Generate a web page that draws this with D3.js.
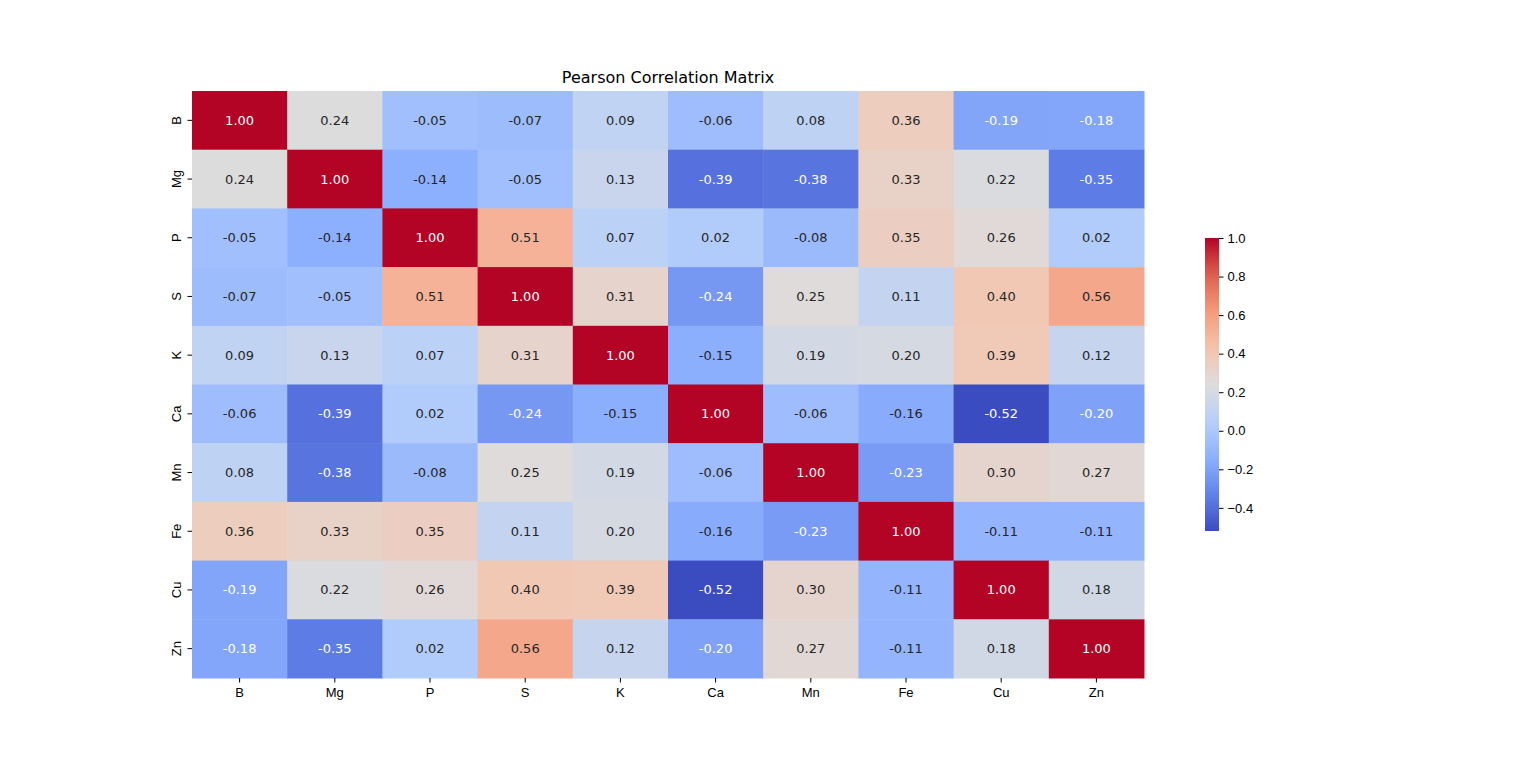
<!DOCTYPE html>
<html><head><meta charset="utf-8">
<script src="https://cdn.jsdelivr.net/npm/d3@7"></script>
<style>body{margin:0;background:#fff;font-family:"DejaVu Sans",sans-serif;}</style>
</head><body><svg id="chart" width="1536" height="762"></svg>
<script>
const labels = ["B","Mg","P","S","K","Ca","Mn","Fe","Cu","Zn"];
const matrix = [
  [1.00,0.24,-0.05,-0.07,0.09,-0.06,0.08,0.36,-0.19,-0.18],
  [0.24,1.00,-0.14,-0.05,0.13,-0.39,-0.38,0.33,0.22,-0.35],
  [-0.05,-0.14,1.00,0.51,0.07,0.02,-0.08,0.35,0.26,0.02],
  [-0.07,-0.05,0.51,1.00,0.31,-0.24,0.25,0.11,0.40,0.56],
  [0.09,0.13,0.07,0.31,1.00,-0.15,0.19,0.20,0.39,0.12],
  [-0.06,-0.39,0.02,-0.24,-0.15,1.00,-0.06,-0.16,-0.52,-0.20],
  [0.08,-0.38,-0.08,0.25,0.19,-0.06,1.00,-0.23,0.30,0.27],
  [0.36,0.33,0.35,0.11,0.20,-0.16,-0.23,1.00,-0.11,-0.11],
  [-0.19,0.22,0.26,0.40,0.39,-0.52,0.30,-0.11,1.00,0.18],
  [-0.18,-0.35,0.02,0.56,0.12,-0.20,0.27,-0.11,0.18,1.00]
];
const colorbarTicks = [-0.4,-0.2,0.0,0.2,0.4,0.6,0.8,1.0];
const vmin = -0.52, vmax = 1.0;

const coolwarm = d3.piecewise(d3.interpolateRgb, [
  "rgb(59,76,192)","rgb(98,130,234)","rgb(141,176,254)","rgb(184,208,249)",
  "rgb(221,220,220)","rgb(245,196,173)","rgb(244,154,123)","rgb(222,96,77)","rgb(180,4,38)"]);
const color = v => coolwarm((v - vmin) / (vmax - vmin));

function lum(c) {
  const r = d3.rgb(c);
  const f = x => { x /= 255; return x <= 0.03928 ? x / 12.92 : Math.pow((x + 0.055) / 1.055, 2.4); };
  return 0.2126 * f(r.r) + 0.7152 * f(r.g) + 0.0722 * f(r.b);
}

const svg = d3.select("#chart");
const mLeft = 192, mTop = 91, mRight = 1144, mBottom = 678;
const x = d3.scaleBand().domain(labels).range([mLeft, mRight]);
const y = d3.scaleBand().domain(labels).range([mTop, mBottom]);

const cells = [];
matrix.forEach((row, i) => row.forEach((v, j) => cells.push({r: labels[i], c: labels[j], v})));

svg.append("g").selectAll("rect").data(cells).enter().append("rect")
  .attr("x", d => x(d.c)).attr("y", d => y(d.r))
  .attr("width", x.bandwidth() + 0.5).attr("height", y.bandwidth() + 0.5)
  .attr("fill", d => color(d.v));

svg.append("g").selectAll("text").data(cells).enter().append("text")
  .attr("x", d => x(d.c) + x.bandwidth() / 2).attr("y", d => y(d.r) + y.bandwidth() / 2)
  .attr("text-anchor", "middle").attr("dominant-baseline", "central")
  .attr("font-size", 13)
  .attr("fill", d => lum(color(d.v)) > 0.408 ? "#262626" : "#ffffff")
  .text(d => d.v.toFixed(2));

const xAxis = svg.append("g").attr("transform", `translate(0,${mBottom})`)
  .call(d3.axisBottom(x).tickSize(4.5).tickPadding(5));
xAxis.select(".domain").remove();
xAxis.selectAll("text").attr("font-size", 13).attr("fill", "#000");

const yAxis = svg.append("g").attr("transform", `translate(${mLeft},0)`)
  .call(d3.axisLeft(y).tickSize(4.5).tickPadding(5));
yAxis.select(".domain").remove();
yAxis.selectAll("text").attr("font-size", 13).attr("fill", "#000")
  .attr("text-anchor", "middle").attr("dy", null).attr("x", null)
  .attr("dominant-baseline", "central")
  .attr("transform", "translate(-16,0) rotate(-90)");

svg.append("text").attr("x", (mLeft + mRight) / 2).attr("y", 83)
  .attr("text-anchor", "middle").attr("font-size", 16).text("Pearson Correlation Matrix");

// colorbar
const cbX = 1205, cbW = 14;
const cy = d3.scaleLinear().domain([vmin, vmax]).range([531, 238]);
const grad = svg.append("defs").append("linearGradient").attr("id", "cb")
  .attr("x1", 0).attr("y1", 1).attr("x2", 0).attr("y2", 0);
d3.range(0, 1.0001, 0.05).forEach(t => grad.append("stop").attr("offset", t).attr("stop-color", coolwarm(t)));
svg.append("rect").attr("x", cbX).attr("y", cy(vmax)).attr("width", cbW)
  .attr("height", cy(vmin) - cy(vmax)).attr("fill", "url(#cb)");
const cAxis = svg.append("g").attr("transform", `translate(${cbX + cbW},0)`)
  .call(d3.axisRight(cy).tickValues(colorbarTicks).tickSize(4.5).tickPadding(4)
    .tickFormat(d => d < 0 ? "\u2212" + Math.abs(d).toFixed(1) : d.toFixed(1)));
cAxis.select(".domain").remove();
cAxis.selectAll("text").attr("font-size", 13).attr("fill", "#000");
</script></body></html>
